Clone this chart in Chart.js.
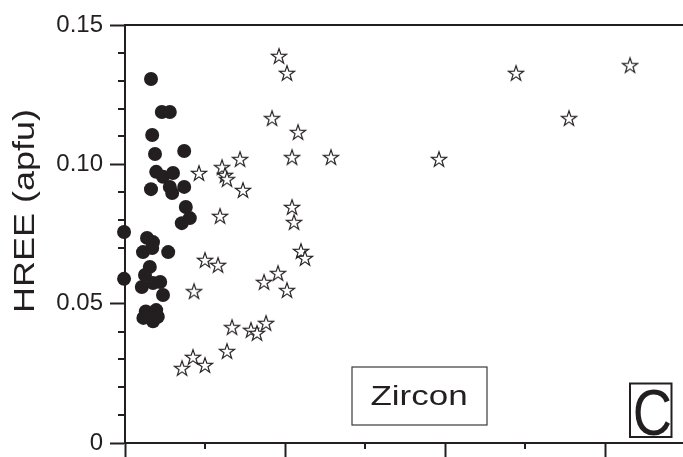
<!DOCTYPE html>
<html>
<head>
<meta charset="utf-8">
<script src="https://cdn.jsdelivr.net/npm/chart.js@4/dist/chart.umd.min.js"></script>
<style>
  html, body { margin: 0; padding: 0; background: #ffffff; }
  #wrap { width: 683px; height: 457px; }
</style>
</head>
<body>
<div id="wrap"><canvas id="c" width="683" height="457"></canvas></div>
<script>
// ---- data ----
const circleX = [0.325,0.46,0.56,0.34,0.375,0.74,0.39,0.475,0.60,0.325,0.56,0.74,0.59,0.76,0.81,0.71,-0.012,0.275,0.35,0.225,0.54,0.34,-0.012,0.31,0.25,0.44,0.21,0.475,0.35,0.26,0.39,0.23,0.35,0.41];
const circleY = [0.1306,0.1188,0.1188,0.1105,0.1037,0.1048,0.0973,0.0955,0.0969,0.0911,0.0919,0.0919,0.0897,0.0847,0.0807,0.0789,0.0757,0.0736,0.0721,0.0685,0.0685,0.0700,0.0589,0.0632,0.0603,0.0578,0.0560,0.0531,0.0574,0.0472,0.0477,0.0449,0.0437,0.0453];

const starX = [1.925,2.025,1.838,2.163,2.088,2.575,1.438,1.213,0.925,1.25,1.275,1.475,1.188,2.088,2.113,2.2,2.25,1.0,1.163,1.913,1.738,2.025,0.863,1.338,1.575,1.65,1.763,1.275,0.85,0.713,1.0,3.925,4.888,5.55,6.313];
const starY = [0.1389,0.1328,0.1166,0.1116,0.1026,0.1026,0.1019,0.0990,0.0969,0.0962,0.0947,0.0908,0.0815,0.0847,0.0793,0.0689,0.0664,0.0657,0.0639,0.0610,0.0578,0.0549,0.0545,0.0416,0.0406,0.0395,0.0431,0.0330,0.0309,0.0269,0.0280,0.1019,0.1328,0.1166,0.1356];

const xMajorTicks = [0, 2, 4, 6];
const xMinorTicks = [1, 3, 5];
const yMajorTicks = [0, 0.05, 0.10, 0.15];
const yTickLabels = ["0", "0.05", "0.10", "0.15"];
const yMinorTicks = [0.01,0.02,0.03,0.04,0.06,0.07,0.08,0.09,0.11,0.12,0.13,0.14];
const yTitle = "HREE (apfu)";
const sampleLabel = "Zircon";
const panelLabel = "C";

const INK = '#231f20';
const FONT = '"Liberation Sans", Arial, Helvetica, sans-serif';

function makeStar() {
  const c = document.createElement('canvas');
  c.width = 18; c.height = 18;
  const g = c.getContext('2d');
  g.beginPath();
  for (let i = 0; i < 10; i++) {
    const r = i % 2 ? 3.1 : 8;
    const a = -Math.PI / 2 + i * Math.PI / 5;
    g.lineTo(9 + r * Math.cos(a), 9.8 + r * Math.sin(a));
  }
  g.closePath();
  g.fillStyle = '#ffffff';
  g.fill();
  g.lineWidth = 1.15;
  g.strokeStyle = INK;
  g.stroke();
  return c;
}

const extras = {
  id: 'extras',
  afterDraw(chart) {
    const ctx = chart.ctx;
    const xs = chart.scales.x, ys = chart.scales.y;
    const a = chart.chartArea;
    ctx.save();
    ctx.strokeStyle = INK;
    ctx.lineWidth = 2;
    // minor ticks
    ctx.beginPath();
    xMinorTicks.forEach(v => {
      const px = Math.round(xs.getPixelForValue(v));
      ctx.moveTo(px, a.bottom); ctx.lineTo(px, a.bottom + 6);
    });
    yMinorTicks.forEach(v => {
      const py = Math.round(ys.getPixelForValue(v));
      ctx.moveTo(a.left, py); ctx.lineTo(a.left - 7, py);
    });
    // top frame line
    ctx.moveTo(a.left, a.top); ctx.lineTo(a.right, a.top);
    ctx.stroke();

    ctx.fillStyle = INK;
    // y-axis title (rotated)
    ctx.save();
    ctx.translate(33.5, 211);
    ctx.rotate(-Math.PI / 2);
    ctx.scale(1.2, 1);
    ctx.font = '30px ' + FONT;
    ctx.textAlign = 'center';
    ctx.textBaseline = 'alphabetic';
    ctx.fillText(yTitle, 0, 0);
    ctx.restore();

    // Zircon box
    ctx.lineWidth = 1.2;
    ctx.strokeStyle = '#3a3a3a';
    ctx.strokeRect(352, 367, 135, 58);
    ctx.save();
    ctx.translate(419, 405);
    ctx.scale(1.25, 1);
    ctx.font = '28px ' + FONT;
    ctx.textAlign = 'center';
    ctx.textBaseline = 'alphabetic';
    ctx.fillText(sampleLabel, 0, 0);
    ctx.restore();

    // C box
    ctx.lineWidth = 2;
    ctx.strokeStyle = INK;
    ctx.strokeRect(630, 383.5, 41.5, 53.5);
    ctx.save();
    ctx.translate(652.5, 434.5);
    ctx.scale(0.85, 1);
    ctx.font = '64px ' + FONT;
    ctx.textAlign = 'center';
    ctx.textBaseline = 'alphabetic';
    ctx.fillText(panelLabel, 0, 0);
    ctx.restore();

    ctx.restore();
  }
};

const circlePts = circleX.map((x, i) => ({ x: x, y: circleY[i] }));
const starPts = starX.map((x, i) => ({ x: x, y: starY[i] }));

new Chart(document.getElementById('c'), {
  type: 'scatter',
  data: {
    datasets: [
      {
        label: 'circles',
        data: circlePts,
        pointStyle: 'circle',
        pointRadius: 7,
        backgroundColor: INK,
        borderWidth: 0,
        clip: false
      },
      {
        label: 'stars',
        data: starPts,
        pointStyle: makeStar(),
        pointRadius: 8,
        clip: false
      }
    ]
  },
  options: {
    responsive: false,
    devicePixelRatio: 1,
    animation: false,
    events: [],
    layout: { autoPadding: false, padding: { top: 25, right: 0, bottom: 0, left: 0 } },
    plugins: { legend: { display: false }, tooltip: { enabled: false }, title: { display: false } },
    scales: {
      x: {
        type: 'linear',
        position: 'bottom',
        min: 0,
        max: 6.975,
        afterBuildTicks: s => { s.ticks = xMajorTicks.map(v => ({ value: v })); },
        afterFit: s => { s.height = 14; s.paddingLeft = 0; s.paddingRight = 0; s.paddingTop = 0; s.paddingBottom = 0; },
        ticks: { display: false },
        grid: { display: true, drawOnChartArea: false, drawTicks: true, tickLength: 14, tickWidth: 2, tickColor: INK },
        border: { display: true, width: 2, color: INK }
      },
      y: {
        type: 'linear',
        position: 'left',
        min: 0,
        max: 0.15,
        afterBuildTicks: s => { s.ticks = yMajorTicks.map(v => ({ value: v })); },
        afterFit: s => { s.width = 125; s.paddingTop = 0; s.paddingBottom = 0; s.paddingLeft = 0; s.paddingRight = 0; },
        ticks: {
          padding: 7,
          color: INK,
          font: { family: FONT, size: 24 },
          callback: (v) => {
            const i = yMajorTicks.findIndex(t => Math.abs(t - v) < 1e-9);
            return i >= 0 ? yTickLabels[i] : '';
          }
        },
        grid: { display: true, drawOnChartArea: false, drawTicks: true, tickLength: 15, tickWidth: 2, tickColor: INK },
        border: { display: true, width: 2, color: INK }
      }
    }
  },
  plugins: [extras]
});
</script>
</body>
</html>
